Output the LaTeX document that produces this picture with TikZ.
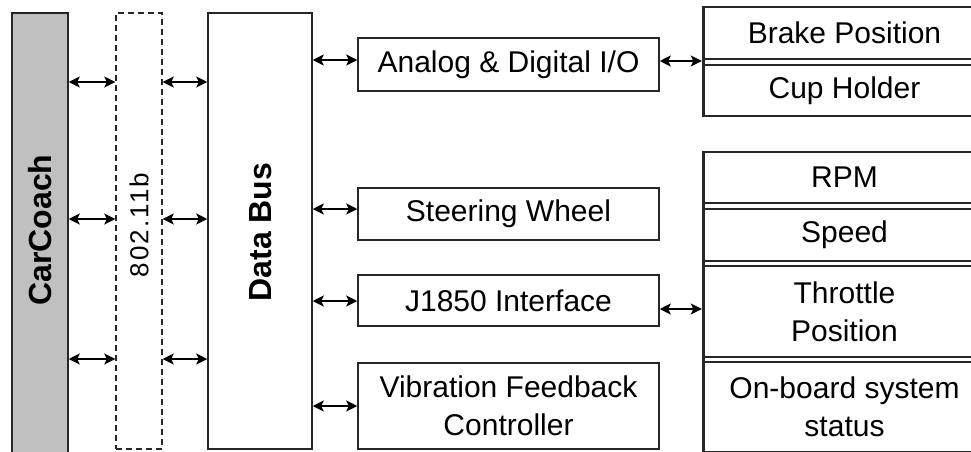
\documentclass[tikz,border=0pt]{standalone}
\usepackage{fontspec}
\setmainfont{Liberation Sans}
\usetikzlibrary{arrows.meta,calc}
\definecolor{barfill}{RGB}{192,192,192}
\begin{document}
\begin{tikzpicture}[x=1pt,y=-1pt,
  box/.style={draw=black!85, line width=1.5pt, inner sep=0pt, minimum width=#1},
  box/.default=301,
  cell/.style={draw=black!85, line width=1.4pt, inner sep=0pt, minimum width=281, align=center, font=\fontsize{30}{38}\selectfont},
  lbl/.style={font=\fontsize{30}{38}\selectfont, align=center, inner sep=0pt},
  vlbl/.style={rotate=90, inner sep=0pt, font=\bfseries\fontsize{32}{38}\selectfont},
  arr/.style={line width=1.8pt, {Stealth[length=11pt,width=11pt,inset=2.5pt]}-{Stealth[length=11pt,width=11pt,inset=2.5pt]}}
]
\useasboundingbox[fill=white] (0,0) rectangle (971,451);

% left bars
\node[box=56, minimum height=440, fill=barfill] (cc) at (40,233) {};
\node[vlbl] (cct) at (40,230) {CarCoach};
\node[draw=black!85, line width=1.4pt, dash pattern=on 6pt off 4pt, minimum width=46, minimum height=436, inner sep=0pt] (wl) at (139,231) {};
\node[rotate=90, inner sep=0pt, font=\fontsize{26}{30}\selectfont\addfontfeature{LetterSpace=8}] (wlt) at (139,225) {802.11b};
\node[box=104, minimum height=436] (db) at (260,231) {};
\node[vlbl] (dbt) at (261,232) {Data Bus};

% arrows between left bars
\foreach \yy in {82,219,359}{
  \draw[arr] (cc.east |- 0,\yy) -- (wl.west |- 0,\yy);
  \draw[arr] (wl.east |- 0,\yy) -- (db.west |- 0,\yy);
}

% middle boxes
\node[box, minimum height=53, lbl, font=\fontsize{30}{38}\selectfont] (an) at (508.5,64.5) {Analog \& Digital I/O};
\node[box, minimum height=52, lbl, font=\fontsize{30}{38}\selectfont] (sw) at (508.5,214) {Steering Wheel};
\node[box, minimum height=51, lbl, font=\fontsize{30}{38}\selectfont] (jx) at (508.5,300.5) {J1850 Interface};
\node[box, minimum height=86, lbl, font=\fontsize{30}{38}\selectfont] (vf) at (508.5,406) {Vibration Feedback\\Controller};

% right cells
\node[cell, minimum height=52] (bp) at (844.5,33) {Brake Position};
\node[cell, minimum height=51] (ch) at (844.5,90.5) {Cup Holder};
\node[cell, minimum height=51] (rpm) at (844.5,177.5) {RPM};
\node[cell, minimum height=52] (sp) at (844.5,235) {Speed};
\node[cell, minimum height=91] (tp) at (844.5,311.5) {Throttle\\Position};
\node[cell, minimum height=90] (ob) at (844.5,407) {On-board system\\status};
\draw[line width=3pt, black!85] (bp.north west) -- (ch.south west);
\draw[line width=3pt, black!85] (rpm.north west) -- (ob.south west);

% arrows data bus to middle boxes
\draw[arr] (db.east |- 0,60) -- (an.west |- 0,60);
\draw[arr] (db.east |- 0,209) -- (sw.west |- 0,209);
\draw[arr] (db.east |- 0,301) -- (jx.west |- 0,301);
\draw[arr] (db.east |- 0,406) -- (vf.west |- 0,406);

% arrows middle to right
\draw[arr] (an.east |- 0,61) -- ($(bp.west |- 0,61)+(-1.5,0)$);
\draw[arr] (jx.east |- 0,309) -- ($(tp.west |- 0,309)+(-1.5,0)$);
\end{tikzpicture}
\end{document}
